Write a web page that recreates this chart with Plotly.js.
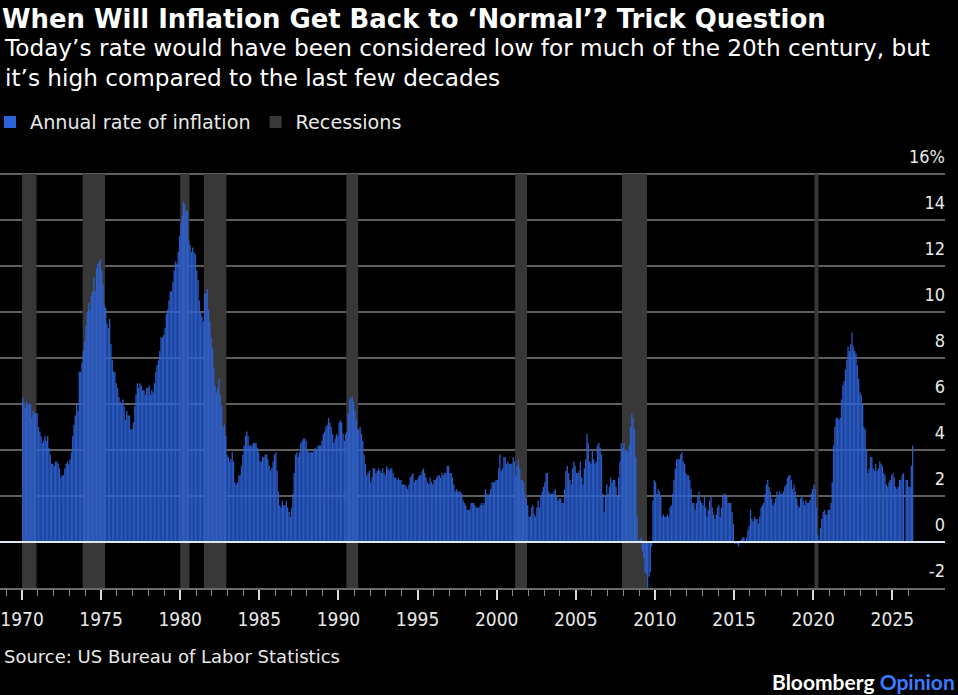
<!DOCTYPE html>
<html>
<head>
<meta charset="utf-8">
<script src="https://cdn.plot.ly/plotly-3.0.1.min.js"></script>
<style>
  html, body { margin: 0; padding: 0; background: #000; }
  #chart { width: 958px; height: 695px; }
</style>
</head>
<body>
<div id="chart"></div>
<script>
// Annual rate of inflation (CPI, % y/y), monthly, Jan of first year onward
const cpi1970s = [
  6.3, 6.1, 5.8, 6.1, 6.0, 6.0, 6.0, 5.4, 5.7, 5.6, 5.6, 5.6,
  5.0, 4.8, 4.6, 4.3, 4.4, 4.6, 4.4, 4.6, 4.1, 3.8, 3.4, 3.4,
  3.3, 3.5, 3.5, 3.4, 3.2, 2.8, 2.9, 2.9, 3.2, 3.4, 3.5, 3.4,
  3.6, 3.9, 4.6, 5.1, 5.5, 6.0, 5.7, 7.4, 7.4, 7.8, 8.3, 8.7,
  9.4, 10.0, 10.4, 10.1, 10.7, 10.9, 11.5, 10.9, 11.9, 12.1, 12.2, 12.3,
  11.8, 11.2, 10.3, 10.2, 9.5, 9.3, 9.7, 8.6, 7.9, 7.4, 7.4, 6.9,
  6.7, 6.3, 6.1, 6.0, 6.2, 5.9, 5.3, 5.7, 5.5, 5.5, 4.9, 4.9,
  5.2, 5.9, 6.4, 6.9, 6.7, 6.9, 6.8, 6.6, 6.6, 6.4, 6.7, 6.7,
  6.8, 6.4, 6.6, 6.5, 6.9, 7.4, 7.7, 7.9, 8.3, 8.9, 8.9, 9.0,
  9.3, 9.9, 10.1, 10.5, 10.9, 10.9, 11.3, 11.8, 12.2, 12.1, 12.6, 13.3
];
const cpi1980s = [
  13.9, 14.2, 14.8, 14.7, 14.4, 14.4, 13.1, 12.9, 12.6, 12.8, 12.6, 12.5,
  11.8, 11.4, 10.5, 10.0, 9.8, 9.6, 10.8, 10.8, 11.0, 10.1, 9.6, 8.9,
  8.4, 7.6, 6.8, 6.5, 6.7, 7.1, 6.4, 5.9, 5.0, 5.1, 4.6, 3.8,
  3.7, 3.5, 3.6, 3.9, 3.5, 2.6, 2.5, 2.6, 2.9, 2.9, 3.3, 3.8,
  4.2, 4.6, 4.8, 4.6, 4.2, 4.2, 4.2, 4.3, 4.3, 4.3, 4.1, 3.9,
  3.5, 3.5, 3.7, 3.7, 3.8, 3.8, 3.6, 3.3, 3.1, 3.2, 3.5, 3.8,
  3.9, 3.1, 2.2, 1.6, 1.5, 1.8, 1.6, 1.6, 1.8, 1.5, 1.3, 1.1,
  1.5, 2.1, 3.0, 3.8, 3.9, 3.7, 3.9, 4.3, 4.4, 4.5, 4.5, 4.4,
  4.0, 3.9, 3.9, 3.9, 3.9, 4.0, 4.1, 4.0, 4.2, 4.2, 4.2, 4.4,
  4.7, 4.8, 5.0, 5.1, 5.4, 5.2, 5.0, 4.7, 4.3, 4.5, 4.7, 4.6
];
const cpi1990s = [
  5.2, 5.3, 5.2, 4.7, 4.4, 4.7, 4.8, 5.6, 6.2, 6.3, 6.3, 6.1,
  5.7, 5.3, 4.9, 4.9, 5.0, 4.7, 4.4, 3.8, 3.4, 2.9, 3.0, 3.1,
  2.6, 2.8, 3.2, 3.2, 3.0, 3.1, 3.2, 3.1, 3.0, 3.2, 3.0, 2.9,
  3.3, 3.2, 3.1, 3.2, 3.2, 3.0, 2.8, 2.8, 2.7, 2.8, 2.7, 2.7,
  2.5, 2.5, 2.5, 2.4, 2.3, 2.5, 2.8, 2.9, 3.0, 2.6, 2.7, 2.7,
  2.8, 2.9, 2.9, 3.1, 3.2, 3.0, 2.8, 2.6, 2.5, 2.8, 2.6, 2.5,
  2.7, 2.7, 2.8, 2.9, 2.9, 2.8, 3.0, 2.9, 3.0, 3.0, 3.3, 3.3,
  3.0, 3.0, 2.8, 2.5, 2.2, 2.3, 2.2, 2.2, 2.2, 2.1, 1.8, 1.7,
  1.6, 1.4, 1.4, 1.4, 1.7, 1.7, 1.7, 1.6, 1.5, 1.5, 1.5, 1.6,
  1.7, 1.6, 1.7, 2.3, 2.1, 2.0, 2.1, 2.3, 2.6, 2.6, 2.6, 2.7
];
const cpi2000s = [
  2.7, 3.2, 3.8, 3.1, 3.2, 3.7, 3.7, 3.4, 3.5, 3.4, 3.4, 3.4,
  3.7, 3.5, 2.9, 3.3, 3.6, 3.2, 2.7, 2.7, 2.6, 2.1, 1.9, 1.6,
  1.1, 1.1, 1.5, 1.6, 1.2, 1.1, 1.5, 1.8, 1.5, 2.0, 2.2, 2.4,
  2.6, 3.0, 3.0, 2.2, 2.1, 2.1, 2.1, 2.2, 2.3, 2.0, 1.8, 1.9,
  1.9, 1.7, 1.7, 2.3, 3.1, 3.3, 3.0, 2.7, 2.5, 3.2, 3.5, 3.3,
  3.0, 3.0, 3.1, 3.5, 2.8, 2.5, 3.2, 3.6, 4.7, 4.3, 3.5, 3.4,
  4.0, 3.6, 3.4, 3.5, 4.2, 4.3, 4.1, 3.8, 2.1, 1.3, 2.0, 2.5,
  2.1, 2.4, 2.8, 2.6, 2.7, 2.7, 2.4, 2.0, 2.8, 3.5, 4.3, 4.1,
  4.3, 4.0, 4.0, 3.9, 4.2, 5.0, 5.6, 5.4, 4.9, 3.7, 1.1, 0.1,
  0.0, 0.2, -0.4, -0.7, -1.3, -1.4, -2.1, -1.5, -1.3, -0.2, 1.8, 2.7
];
const cpi2010s = [
  2.6, 2.1, 2.3, 2.2, 2.0, 1.1, 1.2, 1.1, 1.1, 1.2, 1.1, 1.5,
  1.6, 2.1, 2.7, 3.2, 3.6, 3.6, 3.6, 3.8, 3.9, 3.5, 3.4, 3.0,
  2.9, 2.9, 2.7, 2.3, 1.7, 1.7, 1.4, 1.7, 2.0, 2.2, 1.8, 1.7,
  1.6, 2.0, 1.5, 1.1, 1.4, 1.8, 2.0, 1.5, 1.2, 1.0, 1.2, 1.5,
  1.6, 1.1, 1.5, 2.0, 2.1, 2.1, 2.0, 1.7, 1.7, 1.7, 1.3, 0.8,
  -0.1, 0.0, -0.1, -0.2, 0.0, 0.1, 0.2, 0.2, 0.0, 0.2, 0.5, 0.7,
  1.4, 1.0, 0.9, 1.1, 1.0, 1.0, 0.8, 1.1, 1.5, 1.6, 1.7, 2.1,
  2.5, 2.7, 2.4, 2.2, 1.9, 1.6, 1.7, 1.9, 2.2, 2.0, 2.2, 2.1,
  2.1, 2.2, 2.4, 2.5, 2.8, 2.9, 2.9, 2.7, 2.3, 2.5, 2.2, 1.9,
  1.6, 1.5, 1.9, 2.0, 1.8, 1.6, 1.8, 1.7, 1.7, 1.8, 2.1, 2.3
];
const cpi2020s = [
  2.5, 2.3, 1.5, 0.3, 0.1, 0.6, 1.0, 1.3, 1.4, 1.2, 1.2, 1.4,
  1.4, 1.7, 2.6, 4.2, 5.0, 5.4, 5.4, 5.3, 5.4, 6.2, 6.8, 7.0,
  7.5, 7.9, 8.5, 8.3, 8.6, 9.1, 8.5, 8.3, 8.2, 7.7, 7.1, 6.5,
  6.4, 6.0, 5.0, 4.9, 4.0, 3.0, 3.2, 3.7, 3.7, 3.2, 3.1, 3.4,
  3.1, 3.2, 3.5, 3.4, 3.3, 3.0, 2.9, 2.5, 2.4, 2.6, 2.7, 2.9,
  3.0, 2.8, 2.4, 2.3, 2.4, 2.7, 2.7, 2.9, 3.0, null, 2.7, 2.7,
  2.4, 2.4, 3.3, 4.2
];
const startYear = 1970;

// NBER recessions (as shaded in the chart)
const recessionStart = ['1970-01-01', '1973-11-01', '1980-01-01', '1981-07-01', '1990-07-01', '2001-03-01', '2007-12-01', '2020-02-01'];
const recessionEnd   = ['1970-11-30', '1975-03-31', '1980-07-31', '1982-11-30', '1991-03-31', '2001-11-30', '2009-06-30', '2020-04-30'];

const yTicks = [-2, 0, 2, 4, 6, 8, 10, 12, 14, 16];
const yTickText = ['-2', '0', '2', '4', '6', '8', '10', '12', '14', '16%'];

// ---- build traces ----
const values = [].concat(cpi1970s, cpi1980s, cpi1990s, cpi2000s, cpi2010s, cpi2020s);
const dates = values.map((v, i) => {
  const y = startYear + Math.floor(i / 12);
  const m = (i % 12) + 1;
  return y + '-' + String(m).padStart(2, '0') + '-16';
});
const DAY = 86400000;

const recX = [], recW = [], recY = [], recBase = [];
for (let i = 0; i < recessionStart.length; i++) {
  const a = Date.parse(recessionStart[i] + 'T00:00:00Z');
  const b = Date.parse(recessionEnd[i] + 'T00:00:00Z') + DAY;
  recX.push(new Date((a + b) / 2).toISOString().slice(0, 19).replace('T', ' '));
  recW.push(b - a);
  recY.push(yTicks[yTicks.length - 1] - yTicks[0]);
  recBase.push(yTicks[0]);
}

const FONT = '"DejaVu Sans", sans-serif';
const TICKFONT = '"DejaVu Sans Condensed", "DejaVu Sans", sans-serif';

const inflationTrace = {
  type: 'bar', name: 'Annual rate of inflation', legendrank: 1,
  x: dates, y: values, width: 30.6 * DAY,
  marker: { color: '#2d63d8', opacity: 0.9, line: { width: 0 } },
  hoverinfo: 'x+y'
};
const recessionTrace = {
  type: 'bar', name: 'Recessions', legendrank: 2,
  x: recX, y: recY, base: recBase, width: recW,
  marker: { color: '#383838', line: { width: 0 } },
  hoverinfo: 'skip'
};
// recessions drawn underneath
const data = [recessionTrace, inflationTrace];

// plot area: y from 144 px (top) to 588 px (bottom), 23 px per point
const plotTop = 144, plotBottom = 588, plotH = plotBottom - plotTop;
const py = (px) => (plotBottom - px) / plotH;   // page px -> paper y
const PW = 945;

const layout = {
  width: 958, height: 695,
  paper_bgcolor: '#000', plot_bgcolor: '#000',
  margin: { l: 0, r: 958 - PW, t: plotTop, b: 695 - plotBottom, pad: 0, autoexpand: false },
  barmode: 'overlay',
  font: { family: FONT, color: '#e8e8e8', size: 18 },
  title: {
    text: '<b>When Will Inflation Get Back to ‘Normal’? Trick Question</b>',
    font: { family: FONT, size: 25.9, color: '#ffffff' },
    xref: 'container', x: 2 / 958, xanchor: 'left',
    yref: 'container', y: 1 - 18.5 / 695, yanchor: 'middle'
  },
  showlegend: true,
  legend: {
    orientation: 'h', traceorder: 'normal',
    xref: 'paper', yref: 'container',
    x: -10 / PW, xanchor: 'left',
    y: 1 - 122 / 695, yanchor: 'middle',
    font: { family: FONT, size: 19.2, color: '#e8e8e8' },
    bgcolor: 'rgba(0,0,0,0)', itemclick: false, itemdoubleclick: false
  },
  xaxis: {
    type: 'date',
    range: ['1968-08-11', '2028-05-01'],
    tickmode: 'linear', tick0: '1970-01-01', dtick: 'M60', tickformat: '%Y',
    ticks: 'outside', ticklen: 10, tickwidth: 2, tickcolor: '#d8d8d8',
    minor: { tickmode: 'linear', tick0: '1970-01-01', dtick: 'M12', ticks: 'outside', ticklen: 6, tickwidth: 1, tickcolor: '#8a8a8a', showgrid: false },
    showgrid: false, zeroline: false,
    showline: true, linecolor: '#6a6a6a', linewidth: 2,
    ticklabelstandoff: 3,
    tickfont: { family: TICKFONT, size: 19, color: '#e8e8e8' },
    fixedrange: true
  },
  yaxis: {
    side: 'right', range: [-2, -2 + plotH / 23],
    tickmode: 'array', tickvals: yTicks, ticktext: yTickText,
    ticks: '', ticklabelposition: 'inside top', ticklabelshift: -5, ticklabelstandoff: -3,
    showgrid: true, gridcolor: '#5e5e5e', gridwidth: 1.5,
    zeroline: true, zerolinecolor: '#dfe8f8', zerolinewidth: 2, zerolinelayer: 'above traces',
    showline: false,
    tickfont: { family: TICKFONT, size: 18, color: '#e8e8e8' },
    fixedrange: true
  },
  annotations: [
    {
      text: 'Today’s rate would have been considered low for much of the 20th century, but<br>it’s high compared to the last few decades',
      xref: 'paper', yref: 'paper', x: 2 / PW, y: py(62.5),
      xanchor: 'left', yanchor: 'middle', align: 'left', showarrow: false,
      font: { family: FONT, size: 23.2, color: '#ffffff' }
    },
    {
      text: 'Source: US Bureau of Labor Statistics',
      xref: 'paper', yref: 'paper', x: 2 / PW, y: py(656),
      xanchor: 'left', yanchor: 'middle', showarrow: false,
      font: { family: FONT, size: 18, color: '#e8e8e8' }
    },
    {
      text: '<b>Bloomberg <span style="color:#3b7bff">Opinion</span></b>',
      xref: 'paper', yref: 'paper', x: 957 / PW, y: py(681),
      xanchor: 'right', yanchor: 'middle', showarrow: false,
      font: { family: 'Lato, "Open Sans", sans-serif', size: 21, color: '#ffffff' }
    }
  ]
};

Plotly.newPlot('chart', data, layout, { displayModeBar: false, staticPlot: true });
</script>
</body>
</html>
